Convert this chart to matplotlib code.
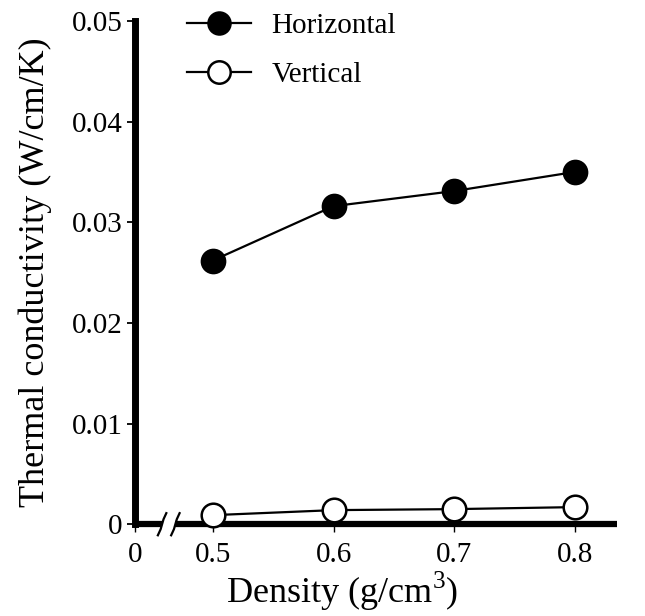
import matplotlib
matplotlib.use("Agg")
import matplotlib.pyplot as plt

plt.rcParams["font.family"] = ["Liberation Serif", "DejaVu Serif"]
plt.rcParams["mathtext.fontset"] = "custom"
plt.rcParams["mathtext.rm"] = "Liberation Serif"

# data
density = [0.5, 0.6, 0.7, 0.8]
k_horizontal = [0.0262, 0.0316, 0.0331, 0.0350]
k_vertical = [0.0009, 0.0014, 0.0015, 0.0017]

y_ticks = [0, 0.01, 0.02, 0.03, 0.04, 0.05]
y_ticklabels = ["0", "0.01", "0.02", "0.03", "0.04", "0.05"]
x_ticklabels = ["0", "0.5", "0.6", "0.7", "0.8"]

# broken x axis: "0" sits at the left edge, the rest is to scale
x_min, x_max = 0.4354, 0.835
break_lo, break_hi = 0.458, 0.469


def draw():

    fig = plt.figure(figsize=(6.45, 6.16), dpi=100)
    ax = fig.add_axes([0.209, 0.149, 0.748, 0.817])

    ax.plot(density, k_horizontal, "-o", color="black", lw=1.6,
            ms=17, mfc="black", mec="black", mew=1.5,
            label="Horizontal", clip_on=False, zorder=3)
    ax.plot(density, k_vertical, "-o", color="black", lw=1.6,
            ms=17, mfc="white", mec="black", mew=1.8,
            label="Vertical", clip_on=False, zorder=3)

    ax.set_xlim(x_min, x_max)
    ax.set_ylim(0, 0.05)

    for s in ["top", "right", "bottom"]:
        ax.spines[s].set_visible(False)
    ax.spines["left"].set_linewidth(5)

    # bottom axis line with a break
    ax.plot([x_min, break_lo], [0, 0], color="black", lw=4.5,
            solid_capstyle="butt", clip_on=False, zorder=2)
    ax.plot([break_hi, x_max], [0, 0], color="black", lw=4.5,
            solid_capstyle="butt", clip_on=False, zorder=2)
    for xb in [break_lo, break_hi]:
        ax.plot([xb - 0.0035, xb - 0.0012, xb + 0.0012, xb + 0.0035],
                [-0.0011, -0.0005, 0.0005, 0.0011],
                color="black", lw=1.6, clip_on=False, zorder=4)

    ax.set_yticks(y_ticks)
    ax.set_yticklabels(y_ticklabels)
    ax.set_xticks([x_min] + density)
    ax.set_xticklabels(x_ticklabels)
    ax.tick_params(axis="y", direction="out", length=6, width=1.3,
                   pad=3, labelsize=21)
    ax.tick_params(axis="x", direction="out", length=6, width=1.0,
                   pad=7, labelsize=21)

    ax.set_ylabel("Thermal conductivity (W/cm/K)", fontsize=26)
    ax.yaxis.set_label_coords(-0.172, 0.5)
    ax.set_xlabel(r"Density (g/cm$^\mathrm{3}$)", fontsize=26)
    ax.xaxis.set_label_coords(0.43, -0.09)

    ax.legend(loc="upper left", bbox_to_anchor=(0.29, 0.98),
              bbox_transform=fig.transFigure, frameon=False,
              fontsize=21, handlelength=2.2, handletextpad=0.7,
              labelspacing=0.8, borderpad=0, borderaxespad=0,
              markerscale=0.95)

    fig.savefig("out.png", dpi=100)


if __name__ == "__main__":

    draw()
